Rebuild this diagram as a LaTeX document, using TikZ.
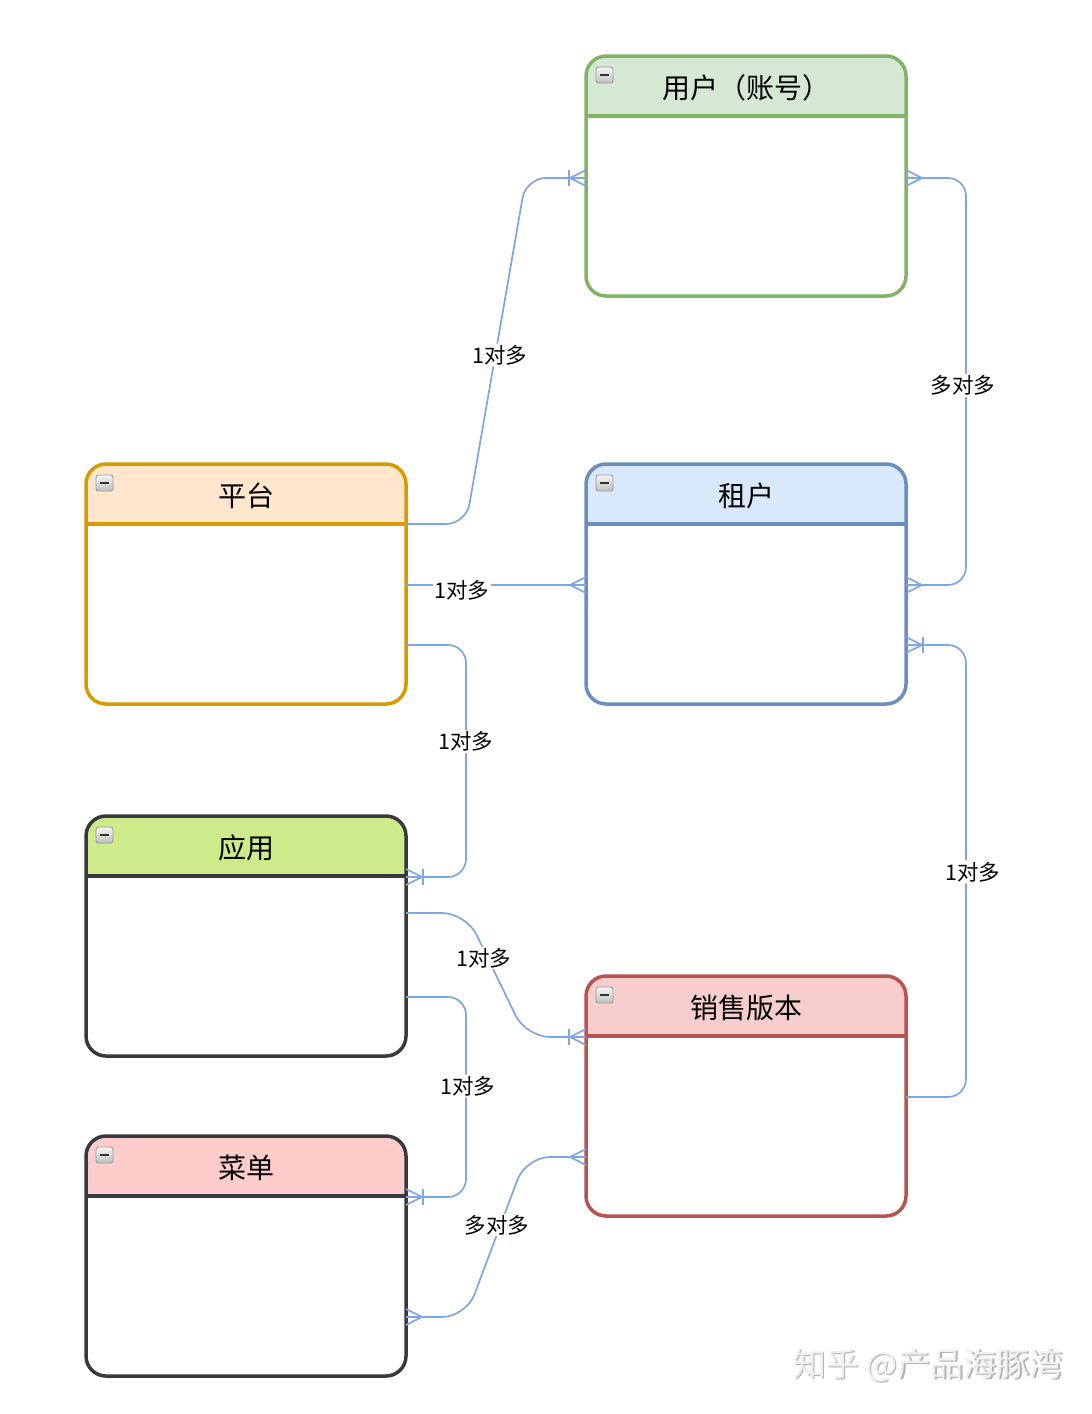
\documentclass[tikz,border=0pt]{standalone}
\usepackage{fontspec}
\setmainfont{Noto Sans CJK SC}
\usetikzlibrary{calc}
\definecolor{linkc}{HTML}{7EA6E0}
\definecolor{gS}{HTML}{82B366}\definecolor{gF}{HTML}{D5E8D4}
\definecolor{oS}{HTML}{D79B00}\definecolor{oF}{HTML}{FFE6CC}
\definecolor{bS}{HTML}{6C8EBF}\definecolor{bF}{HTML}{DAE8FC}
\definecolor{kS}{HTML}{36393D}\definecolor{lF}{HTML}{CDEB8B}
\definecolor{rS}{HTML}{B85450}\definecolor{rF}{HTML}{F8CECC}
\definecolor{pF}{HTML}{FFCCCC}
\newcommand\erbox[6]{%
  \begin{scope}
    \clip[rounded corners=20pt] (#2,#3) rectangle ++(320,240);
    \fill[#5] (#2,#3) rectangle ++(320,60);
  \end{scope}
  \draw[#4, line width=3.5pt, rounded corners=20pt] (#2,#3) rectangle ++(320,240);
  \draw[#4, line width=3.5pt] (#2,#3+60) -- ++(320,0);
  \node[minimum width=320pt, minimum height=240pt, inner sep=0pt, outer sep=0pt] (#1) at (#2+160,#3+120) {};
  \node[ttl] (#1-t) at (#2+160,#3+32) {#6};
  \shade[top color=gray!8, bottom color=gray!50, draw=gray!80, line width=0.9pt, rounded corners=2.5pt] (#2+10,#3+11) rectangle ++(17,16);
  \draw[black!80, line width=2.8pt] (#2+14,#3+19) -- ++(9,0);
}
\newcommand\crowfoot[2]{\draw[conn] ($(#1)+(#2*16,0)$) -- ($(#1)+(0,8)$) ($(#1)+(#2*16,0)$) -- ($(#1)+(0,-8)$) ($(#1)+(#2*16,0)$) -- (#1);}
\newcommand\onebar[2]{\draw[conn] ($(#1)+(#2*17,-8)$) -- ($(#1)+(#2*17,8)$);}
\begin{document}
\begin{tikzpicture}[x=1pt,y=-1pt,
  conn/.style={draw=linkc, line width=1.7pt},
  lbl/.style={fill=white, inner sep=1.5pt, font=\fontsize{21.5}{25}\selectfont, text=black},
  ttl/.style={font=\fontsize{28}{33}\selectfont, text=black}]
\fill[white] (0,0) rectangle (1092,1414);
\useasboundingbox (0,0) rectangle (1092,1414);

\erbox{user}{586}{56}{gS}{gF}{用户（账号）}
\erbox{plat}{86}{464}{oS}{oF}{平台}
\erbox{ten}{586}{464}{bS}{bF}{租户}
\erbox{app}{86}{816}{kS}{lF}{应用}
\erbox{sale}{586}{976}{rS}{rF}{销售版本}
\erbox{menu}{86}{1136}{kS}{pF}{菜单}

% connection points
\coordinate (p1) at ($(plat.north east)+(0,60)$);
\coordinate (p2) at ($(plat.north east)+(0,121)$);
\coordinate (p3) at ($(plat.north east)+(0,181)$);
\coordinate (u1) at ($(user.north west)+(0,122)$);
\coordinate (u2) at ($(user.north east)+(0,122)$);
\coordinate (t2) at ($(ten.north west)+(0,121)$);
\coordinate (t3) at ($(ten.north east)+(0,121)$);
\coordinate (t4) at ($(ten.north east)+(0,181)$);
\coordinate (a1) at ($(app.north east)+(0,61)$);
\coordinate (a2) at ($(app.north east)+(0,97)$);
\coordinate (a3) at ($(app.north east)+(0,181)$);
\coordinate (s1) at ($(sale.north west)+(0,61)$);
\coordinate (s2) at ($(sale.north west)+(0,181)$);
\coordinate (s3) at ($(sale.north east)+(0,121)$);
\coordinate (m0) at ($(menu.north east)+(0,61)$);
\coordinate (m1) at ($(menu.north east)+(0,181)$);

% connectors
\draw[conn, rounded corners=20pt] (p1) -- ++(60,0) -- node[lbl, pos=0.5, yshift=-4pt, xshift=4pt] {1对多} ($(u1)+(-60,0)$) -- (u1);
\draw[conn] (p2) -- node[lbl, pos=0.31, yshift=-5pt] {1对多} (t2);
\draw[conn, rounded corners=18pt] (p3) -- ++(60,0) -- node[lbl, pos=0.40, yshift=-4pt] {1对多} ($(a1)+(60,0)$) -- (a1);
\draw[conn, rounded corners=24pt] (a2) -- ++(60,0) -- node[lbl, pos=0.33, yshift=-4pt, xshift=-2pt] {1对多} ($(s1)+(-60,0)$) -- (s1);
\draw[conn, rounded corners=18pt] (a3) -- ++(60,0) -- node[lbl, pos=0.425, yshift=-4pt, xshift=2pt] {1对多} ($(m0)+(60,0)$) -- (m0);
\draw[conn, rounded corners=24pt] (m1) -- ++(60,0) -- node[lbl, pos=0.6, yshift=-4pt, xshift=-5pt] {多对多} ($(s2)+(-60,0)$) -- (s2);
\draw[conn, rounded corners=18pt] (u2) -- ++(60,0) -- node[lbl, pos=0.5, yshift=-4pt, xshift=-3pt] {多对多} ($(t3)+(60,0)$) -- (t3);
\draw[conn, rounded corners=18pt] (s3) -- ++(60,0) -- node[lbl, pos=0.507, yshift=-4pt, xshift=7pt] {1对多} ($(t4)+(60,0)$) -- (t4);

% end marks
\crowfoot{u1}{-1}\onebar{u1}{-1}
\crowfoot{t2}{-1}
\crowfoot{a1}{1}\onebar{a1}{1}
\crowfoot{s1}{-1}\onebar{s1}{-1}
\crowfoot{m0}{1}\onebar{m0}{1}
\crowfoot{m1}{1}
\crowfoot{s2}{-1}
\crowfoot{u2}{1}
\crowfoot{t3}{1}
\crowfoot{t4}{1}\onebar{t4}{1}

% watermark
\node[font=\fontsize{33}{38}\selectfont, text=gray!60] (wm-s) at (929.2,1366.2) {知乎 @产品海豚湾};
\node[font=\fontsize{33}{38}\selectfont, text=gray!12] (wm) at (928,1365) {知乎 @产品海豚湾};
\end{tikzpicture}
\end{document}
